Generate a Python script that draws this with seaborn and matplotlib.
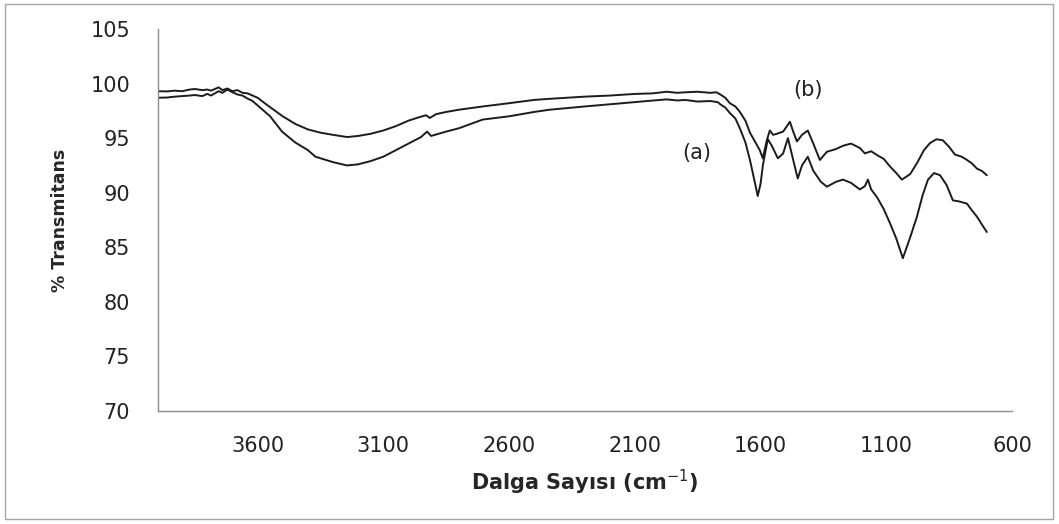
import pandas as pd
import seaborn as sns
import matplotlib.pyplot as plt
from matplotlib.patches import Rectangle

# Spectrum (a) - lower curve
wn_a = [3996, 3960, 3930, 3900, 3870, 3850, 3820, 3800, 3785, 3770, 3755, 3740,
        3720, 3700, 3680, 3660, 3642, 3620, 3600, 3550, 3503,
        3450, 3400, 3370, 3300, 3244, 3200, 3150, 3100, 3050, 3000, 2950, 2926,
        2910, 2850, 2800, 2705, 2600, 2500, 2440, 2300, 2200, 2100, 2050, 1973,
        1930, 1900, 1850, 1800, 1770, 1760, 1740, 1722, 1700, 1682, 1660, 1642,
        1625, 1611, 1600, 1590, 1571, 1555, 1531, 1510, 1491, 1470, 1452, 1435,
        1412, 1390, 1360, 1336, 1300, 1272, 1240, 1205, 1185, 1173, 1160, 1137,
        1110, 1085, 1060, 1034, 1005, 978, 955, 934, 910, 886, 860, 835, 810,
        779, 760, 739, 720, 700]
tr_a = [98.7, 98.72, 98.8, 98.85, 98.9, 98.95, 98.85, 99.05, 98.9, 99.1, 99.3, 99.15,
        99.45, 99.2, 99.0, 98.9, 98.65, 98.4, 98.0, 97.0, 95.6,
        94.6, 93.9, 93.3, 92.8, 92.5, 92.6, 92.9, 93.3, 93.9, 94.5, 95.1, 95.6,
        95.2, 95.6, 95.9, 96.7, 97.0, 97.4, 97.6, 97.9, 98.1, 98.3, 98.4, 98.55,
        98.45, 98.5, 98.35, 98.4, 98.3, 98.1, 97.8, 97.3, 96.8, 95.9, 94.6, 93.0,
        91.2, 89.7, 90.8, 92.6, 94.9, 94.3, 93.15, 93.6, 95.0, 93.0, 91.3, 92.5,
        93.3, 92.0, 91.0, 90.55, 91.0, 91.2, 90.9, 90.3, 90.6, 91.2, 90.3, 89.6,
        88.5, 87.2, 85.8, 84.0, 85.9, 87.8, 89.8, 91.2, 91.8, 91.6, 90.7, 89.3, 89.2,
        89.0, 88.4, 87.8, 87.1, 86.4]

# Spectrum (b) - upper curve
wn_b = [3996, 3960, 3930, 3900, 3870, 3850, 3820, 3800, 3785, 3770, 3755, 3740,
        3720, 3700, 3680, 3660, 3640, 3620, 3600, 3560, 3500,
        3450, 3400, 3350, 3300, 3244, 3200, 3150, 3100, 3050, 3000, 2960, 2930,
        2915, 2890, 2850, 2800, 2705, 2600, 2500, 2440, 2300, 2200, 2100, 2030,
        1973, 1930, 1900, 1850, 1800, 1775, 1760, 1740, 1722, 1700, 1682, 1660,
        1642, 1620, 1603, 1591, 1575, 1563, 1550, 1535, 1510, 1483, 1470, 1455,
        1435, 1412, 1390, 1364, 1336, 1300, 1272, 1240, 1205, 1185, 1160, 1137,
        1110, 1085, 1060, 1038, 1005, 978, 950, 926, 900, 875, 850, 827, 800,
        779, 760, 739, 720, 700]
tr_b = [99.3, 99.28, 99.35, 99.3, 99.45, 99.5, 99.4, 99.45, 99.35, 99.5, 99.65, 99.4,
        99.55, 99.3, 99.4, 99.15, 99.1, 98.9, 98.7, 98.0, 97.0,
        96.3, 95.8, 95.5, 95.3, 95.1, 95.2, 95.4, 95.7, 96.1, 96.6, 96.9, 97.1,
        96.85, 97.2, 97.4, 97.6, 97.9, 98.2, 98.5, 98.6, 98.8, 98.9, 99.05, 99.1,
        99.25, 99.15, 99.2, 99.25, 99.15, 99.2, 99.0, 98.7, 98.2, 97.9, 97.4, 96.6,
        95.5, 94.6, 93.9, 93.15, 94.8, 95.7, 95.3, 95.4, 95.6, 96.5, 95.6, 94.7,
        95.3, 95.7, 94.5, 93.0, 93.75, 94.0, 94.3, 94.5, 94.1, 93.6, 93.8, 93.45,
        93.1, 92.4, 91.8, 91.2, 91.7, 92.7, 93.9, 94.55, 94.9, 94.8, 94.2, 93.5, 93.3,
        93.0, 92.7, 92.2, 92.0, 91.6]

x_ticks = [3600, 3100, 2600, 2100, 1600, 1100, 600]
y_ticks = [70, 75, 80, 85, 90, 95, 100, 105]

df = pd.concat([
    pd.DataFrame({"wn": wn_a, "T": tr_a, "sample": "(a)"}),
    pd.DataFrame({"wn": wn_b, "T": tr_b, "sample": "(b)"}),
])

sns.set_style("white")
plt.rcParams['font.family'] = ['DejaVu Sans']

fig = plt.figure(figsize=(10.59, 5.24), dpi=100)
ax = fig.add_axes([0.1492, 0.2156, 0.8064, 0.7291])

sns.lineplot(data=df, x="wn", y="T", hue="sample", units="sample",
             estimator=None, sort=False, palette=["#1c1c1c", "#1c1c1c"],
             linewidth=1.4, legend=False, ax=ax)

ax.set_xlim(3996, 600)
ax.set_ylim(70, 105)
ax.set_xticks(x_ticks)
ax.set_yticks(y_ticks)
ax.tick_params(axis="both", length=0, labelsize=15, colors="#222222")
ax.tick_params(axis="y", pad=20)
ax.tick_params(axis="x", pad=18)

for s in ["top", "right"]:
    ax.spines[s].set_visible(False)
for s in ["left", "bottom"]:
    ax.spines[s].set_color("#8c8c8c")
    ax.spines[s].set_linewidth(1.0)

ax.set_xlabel("Dalga Sayısı (cm$^{-1}$)", fontsize=15, fontweight="bold")
ax.set_ylabel("% Transmitans", fontsize=12.5, fontweight="bold")
ax.xaxis.set_label_coords(0.5, -0.188)
ax.yaxis.set_label_coords(-0.115, 0.5)
ax.xaxis.label.set_va("center")
ax.yaxis.label.set_va("center")

ax.text(1853, 93.6, "(a)", fontsize=15, ha="center", va="center", color="#222222")
ax.text(1412, 99.4, "(b)", fontsize=15, ha="center", va="center", color="#222222")

# outer chart border
fig.patches.append(Rectangle((5 / 1059, 5 / 524), 1048 / 1059, 515 / 524,
                             transform=fig.transFigure, fill=False,
                             edgecolor="#a6a6a6", linewidth=1.0))

fig.savefig("out.png", dpi=100)
plt.close(fig)
